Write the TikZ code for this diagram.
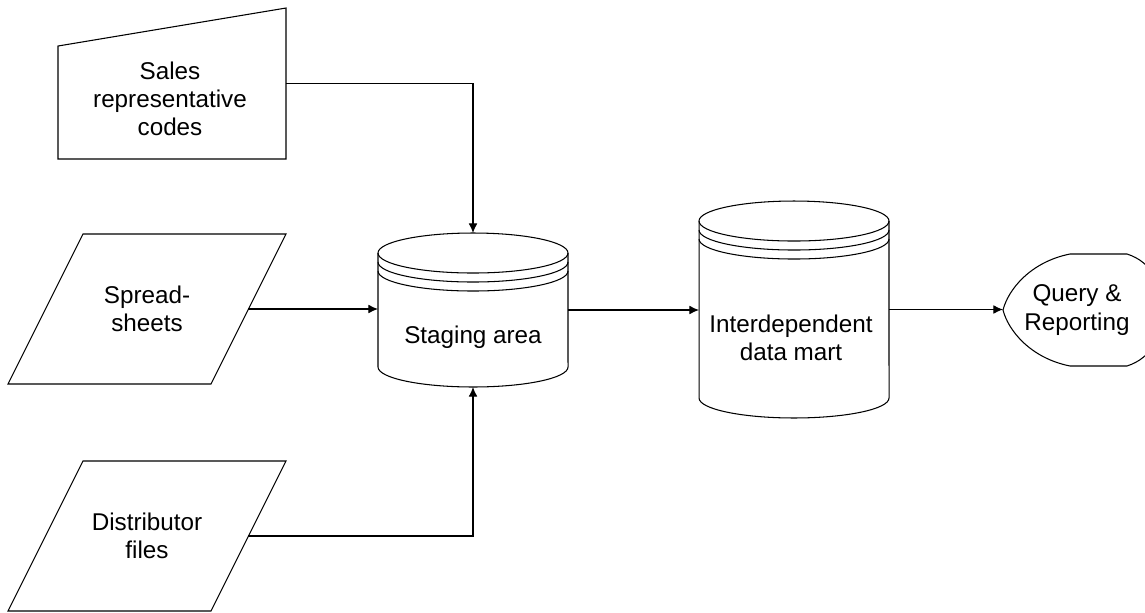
\documentclass[tikz,border=0pt]{standalone}
\usepackage{fontspec}
\setmainfont{Liberation Sans}
\usetikzlibrary{arrows.meta}

% drum outline with the three header lines, drawn round a named box
\newcommand{\drumlines}[1]{%
  \draw ([yshift=-0.4cm]#1.north) ellipse [x radius=95, y radius=20];
  \draw ([yshift=-0.4cm]#1.north west) -- ([yshift=0.4cm]#1.south west)
    arc [start angle=180, end angle=360, x radius=95, y radius=20]
    -- ([yshift=-0.4cm]#1.north east);
  \draw ([yshift=-0.58cm]#1.north west) arc [start angle=180, end angle=360, x radius=95, y radius=20];
  \draw ([yshift=-0.76cm]#1.north west) arc [start angle=180, end angle=360, x radius=95, y radius=20];
}
% slanted data outline round a named box
\newcommand{\slantlines}[1]{%
  \draw ([xshift=-0.75cm]#1.south west) -- ([xshift=-0.75cm]#1.south east)
    -- ([xshift=0.75cm]#1.north east) -- ([xshift=0.75cm]#1.north west) -- cycle;
}

\begin{document}
\begin{tikzpicture}
    [
    x=0.02cm, y=0.02cm, line width=0.6pt,
    txt/.style={font=\fontsize{13.8}{16}\selectfont, align=center},
    area/.style={rectangle, inner sep=0pt, outer sep=0pt},
    sheet/.style={txt, area, minimum width=4.06cm, minimum height=3cm},
    flow/.style={-{Latex[length=5.5pt,width=5pt]}}
    ]
    \fill [white] (0,0) rectangle (1145,-612);
    \useasboundingbox (0,0) rectangle (1145,-612);
    \clip (0,0) rectangle (1145,-612);
    \node (sales) at (172,-83.5) [area, minimum width=4.56cm, minimum height=3.02cm] {};
    \node (salestxt) at (170,-99) [txt] {Sales\\representative\\codes};
    \draw (sales.north east) -- (sales.south east) -- (sales.south west) -- ([yshift=-0.76cm]sales.north west) -- cycle;
    \node (sheets) at (147,-309) [sheet] {Spread-\\sheets};
    \slantlines{sheets}
    \node (dist) at (147,-536) [sheet] {Distributor\\files};
    \slantlines{dist}
    \node (stage) at (473,-310) [area, minimum width=3.8cm, minimum height=3.08cm] {};
    \drumlines{stage}
    \node (stagetxt) at (473,-337) [txt] {Staging area};
    \node (mart) at (794,-309.5) [area, minimum width=3.8cm, minimum height=4.34cm] {};
    \drumlines{mart}
    \node (marttxt) at (791,-338) [txt] {Interdependent\\data mart};
    \node (query) at (1077,-310) [area, txt, minimum width=2.96cm, minimum height=2.24cm] {Query \&\\Reporting};
    \draw (query.west) .. controls (1008,-290) and (1030,-262) .. (1070,-254) -- (1127,-254)
      .. controls (1152,-262) and (1163,-285) .. (1163,-310)
      .. controls (1163,-335) and (1152,-358) .. (1127,-366) -- (1070,-366)
      .. controls (1030,-358) and (1008,-330) .. cycle;
    \draw [flow] (sales.east) -| (stage.north);
    \draw [flow] (sheets.east) -- (sheets.east -| stage.west);
    \draw [flow] (dist.east) -| (stage.south);
    \draw [flow] (stage.east) -- (stage.east -| mart.west);
    \draw [flow] (mart.east) -- (mart.east -| query.west);
  \end{tikzpicture}
\end{document}
